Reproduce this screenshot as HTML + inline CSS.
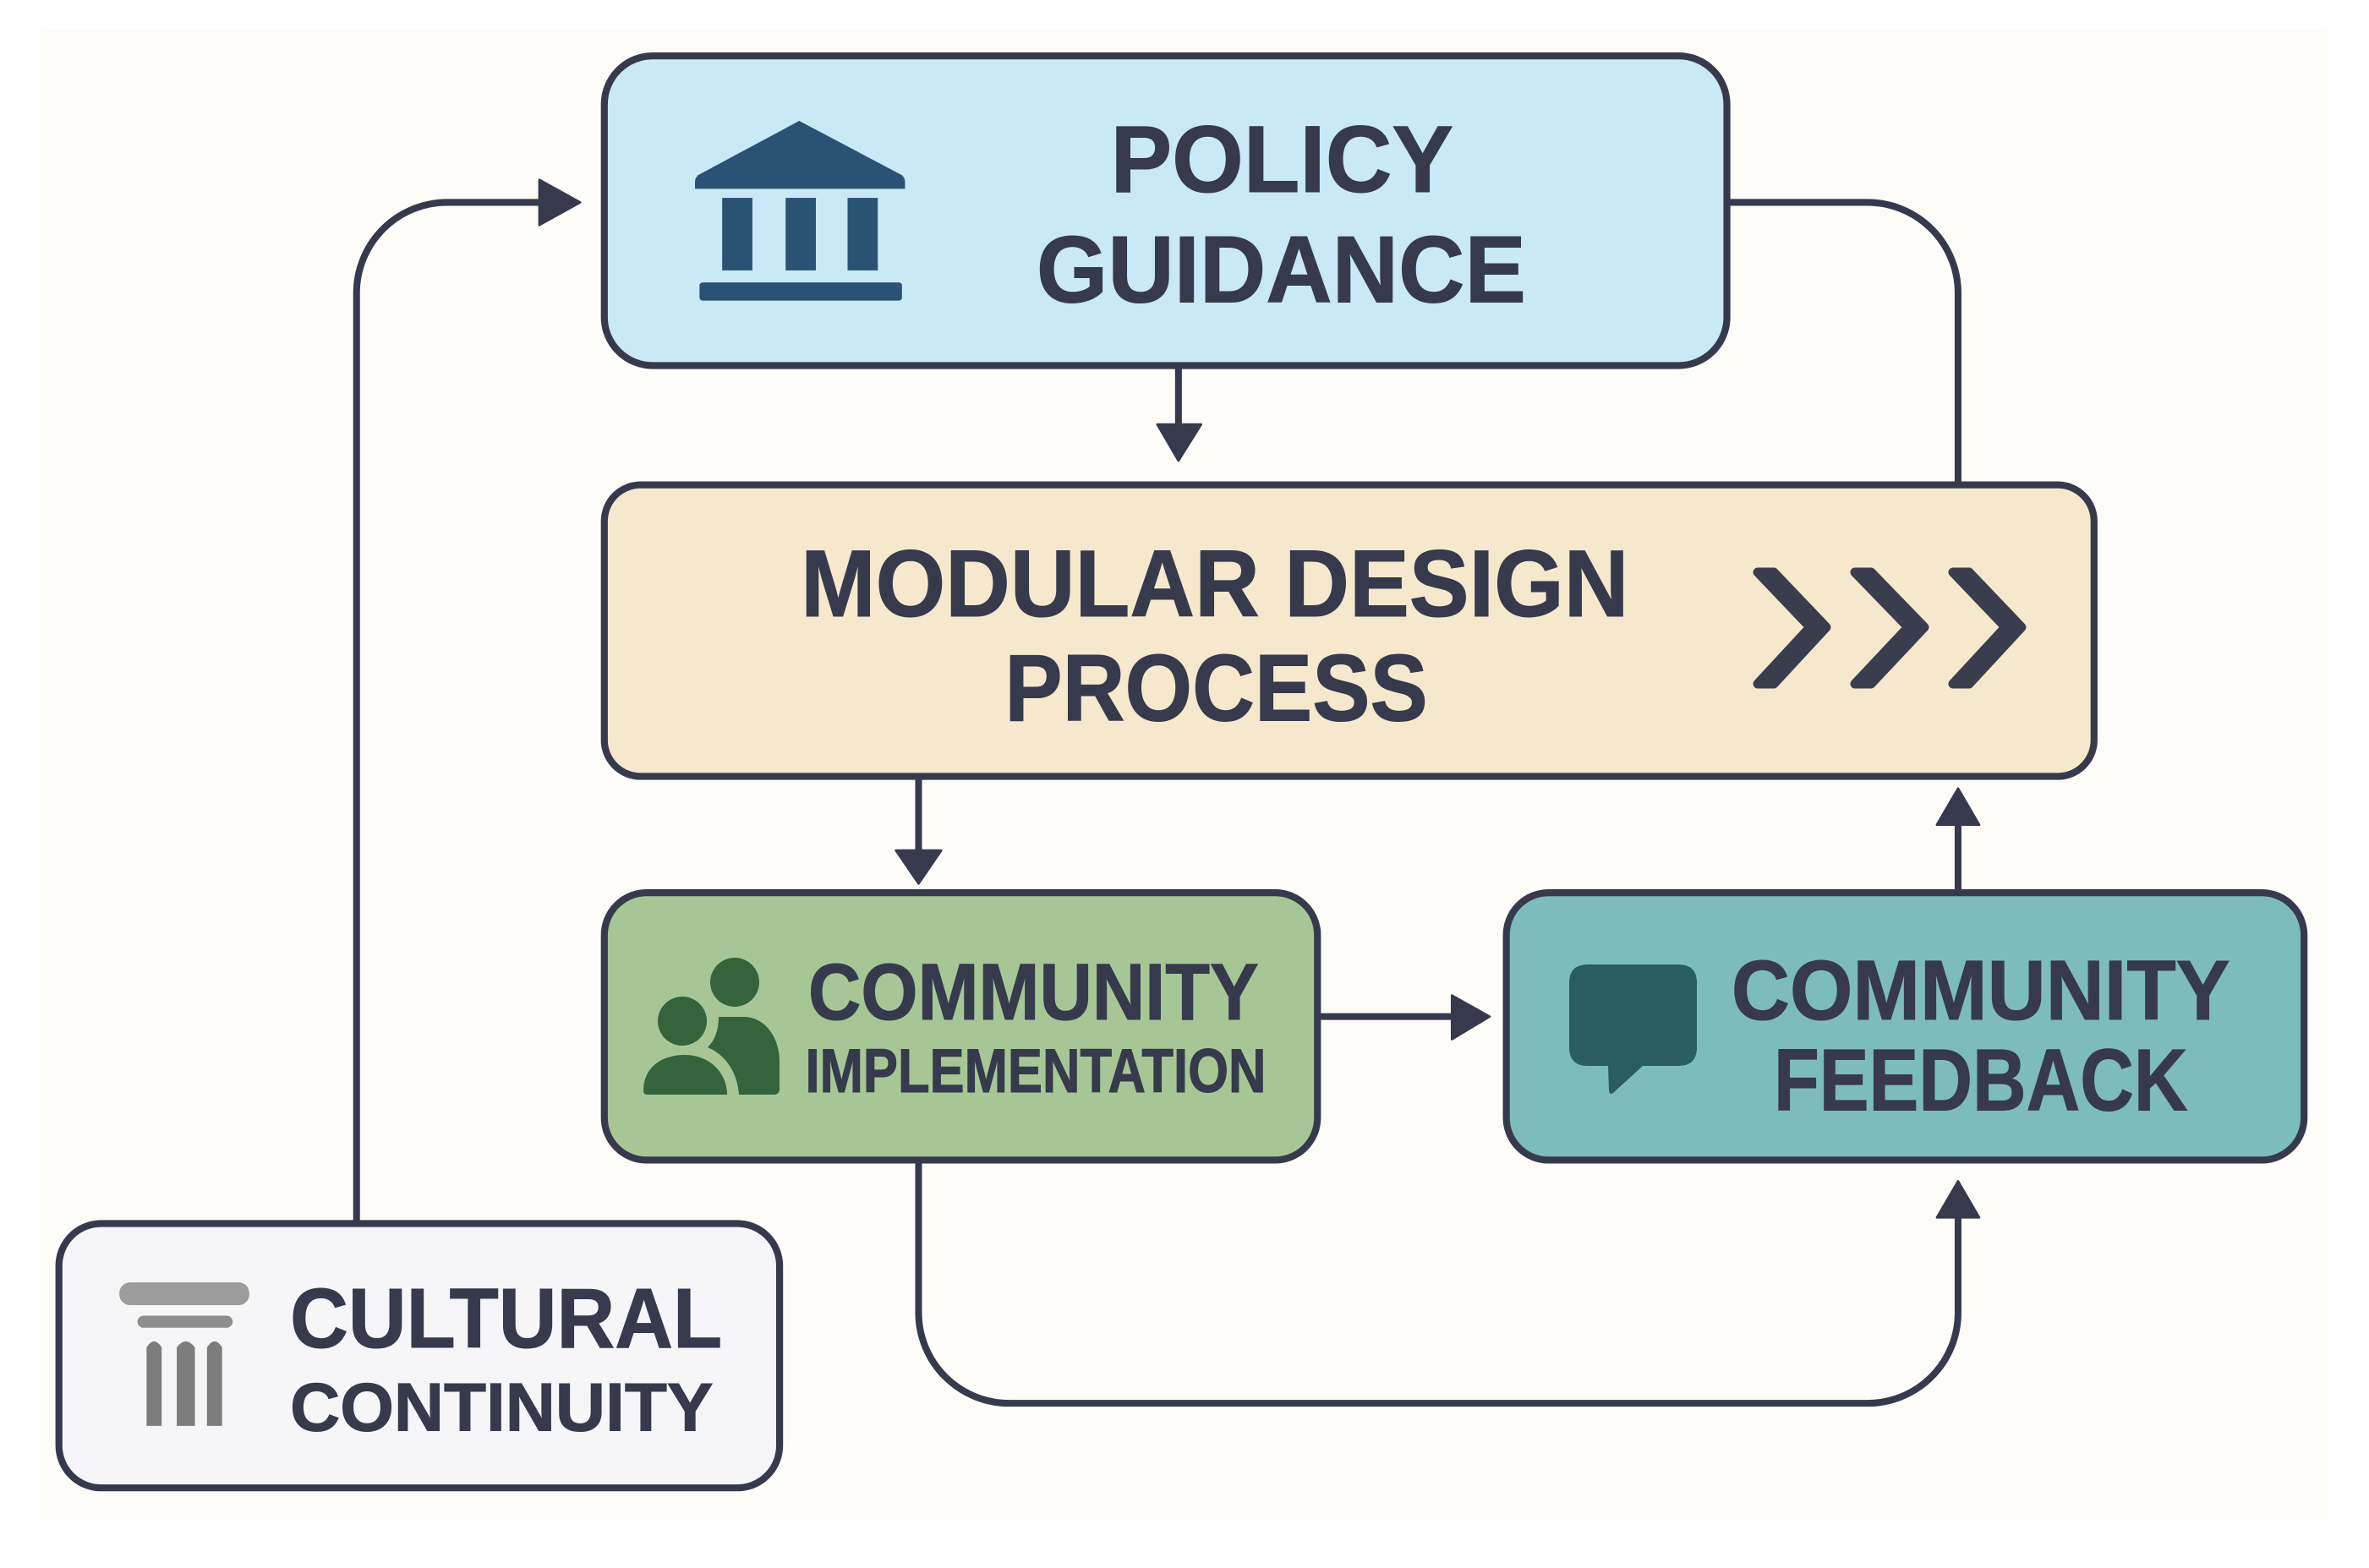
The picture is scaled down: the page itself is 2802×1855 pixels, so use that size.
<!DOCTYPE html>
<html lang="en">
<head>
<meta charset="utf-8">
<title>Policy and community design loop</title>
<style>
html,body{margin:0;padding:0;background:#fff;width:2802px;height:1855px;overflow:hidden}
svg{display:block}
text{font-family:"Liberation Sans",Arial,sans-serif;font-weight:700;fill:#363a4c;stroke:#363a4c;stroke-width:.6}
.box{stroke:#363a4c;stroke-width:4.6}
.line{fill:none;stroke:#363a4c;stroke-width:4.5}
.head{fill:#363a4c;stroke:#363a4c;stroke-width:1.5;stroke-linejoin:round}
</style>
</head>
<body>
<svg xmlns="http://www.w3.org/2000/svg" width="2802" height="1855" viewBox="0 0 2802 1855">
  <rect width="2802" height="1855" fill="#ffffff"/>
  <rect x="48" y="35" width="2705" height="1762" fill="#fdfcf9"/>

  <g transform="scale(1.787)">
    <!-- connectors -->
    <path class="line" d="M236 810V194A60 60 0 0 1 296 134H360"/>
    <path class="line" d="M1143 134H1236A60 60 0 0 1 1296 194V321"/>
    <path class="line" d="M780 242V282"/>
    <path class="line" d="M608 514V564"/>
    <path class="line" d="M872 673H962"/>
    <path class="line" d="M1296 591V545"/>
    <path class="line" d="M608 768V869A60 60 0 0 0 668 929H1236A60 60 0 0 0 1296 869V805"/>
    <polygon class="head" points="357,119 384,134 357,149"/>
    <polygon class="head" points="766,281 795,281 780,305"/>
    <polygon class="head" points="593,563 623,563 608,585"/>
    <polygon class="head" points="961,659 986,673 961,688"/>
    <polygon class="head" points="1282,546 1296,522 1310,546"/>
    <polygon class="head" points="1282,806 1296,782 1310,806"/>

    <!-- boxes -->
    <rect class="box" x="400" y="37" width="743" height="205" rx="32" fill="#c9e9f6"/>
    <rect class="box" x="400" y="321" width="986" height="193" rx="24" fill="#f5e8cd"/>
    <rect class="box" x="400" y="591" width="472" height="177" rx="28" fill="#a6c795"/>
    <rect class="box" x="997" y="591" width="528" height="177" rx="28" fill="#7dbcbd"/>
    <rect class="box" x="39" y="810" width="477" height="175" rx="28" fill="#f6f6f8"/>

    <!-- bank icon -->
    <g fill="#2a5272">
      <path d="M529 80L597 116Q599 118 599 120V125H460V120Q460 118 462 116Z"/>
      <rect x="478" y="131" width="20" height="48"/>
      <rect x="520" y="131" width="20" height="48"/>
      <rect x="561" y="131" width="20" height="48"/>
      <rect x="463" y="187" width="134" height="12" rx="2"/>
    </g>

    <!-- column icon -->
    <rect x="79" y="849" width="86" height="15" rx="7" fill="#9c9c9c"/>
    <rect x="91" y="871" width="63" height="8" rx="4" fill="#8e8e8e"/>
    <g fill="#7c7c7c">
      <path d="M97 944V892Q102 884 107 892V944Z"/>
      <path d="M117 944V892Q123 884 129 892V944Z"/>
      <path d="M137 944V892Q142 884 147 892V944Z"/>
    </g>

    <!-- labels -->
    <text x="735" y="127" font-size="63" textLength="227" lengthAdjust="spacingAndGlyphs">POLICY</text>
    <text x="686" y="200" font-size="63" textLength="324" lengthAdjust="spacingAndGlyphs">GUIDANCE</text>
    <text x="530" y="408" font-size="63" textLength="548" lengthAdjust="spacingAndGlyphs">MODULAR DESIGN</text>
    <text x="665" y="477" font-size="63" textLength="280" lengthAdjust="spacingAndGlyphs">PROCESS</text>
    <text x="535" y="675" font-size="53" textLength="298" lengthAdjust="spacingAndGlyphs">COMMUNITY</text>
    <text x="533" y="723" font-size="41" textLength="305" lengthAdjust="spacingAndGlyphs">IMPLEMENTATION</text>
    <text x="1146" y="675" font-size="56" textLength="330" lengthAdjust="spacingAndGlyphs">COMMUNITY</text>
    <text x="1174" y="735" font-size="58" textLength="274" lengthAdjust="spacingAndGlyphs">FEEDBACK</text>
    <text x="192" y="892" font-size="56" textLength="286" lengthAdjust="spacingAndGlyphs">CULTURAL</text>
    <text x="192" y="947" font-size="45" textLength="280" lengthAdjust="spacingAndGlyphs">CONTINUITY</text>
  </g>

  <!-- chevrons -->
  <g fill="#3a3d4e" stroke="#3a3d4e" stroke-width="11" stroke-linejoin="round">
    <path d="M2079 677H2098L2160 742L2098 809H2079L2141 742Z"/>
    <path d="M2194 677H2213L2276 742L2213 809H2194L2257 742Z"/>
    <path d="M2310 677H2329L2391 742L2329 809H2310L2372 742Z"/>
  </g>

  <!-- people icon -->
  <g fill="#35633c">
    <circle cx="869" cy="1162" r="29"/>
    <circle cx="807" cy="1208" r="29"/>
    <path d="M761 1290C761 1265 780 1248 810 1248C840 1248 860 1270 860 1295H766Q761 1295 761 1290Z"/>
    <path d="M850 1203H880C905 1203 922 1228 922 1255V1288Q922 1295 915 1295H874C872 1268 858 1248 837 1239C846 1230 850 1218 850 1203Z"/>
  </g>

  <!-- speech icon -->
  <path fill="#2a5c64" d="M1878 1141H1985Q2007 1141 2007 1163V1239Q2007 1261 1985 1261H1943L1908 1293Q1904 1296 1903 1290L1902 1261H1878Q1856 1261 1856 1239V1163Q1856 1141 1878 1141Z"/>
</svg>
</body>
</html>
